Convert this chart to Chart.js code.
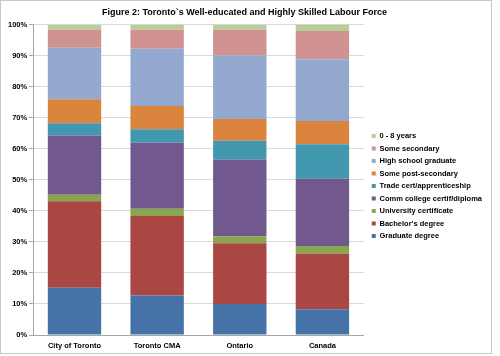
<!DOCTYPE html>
<html><head><meta charset="utf-8">
<script src="https://cdn.jsdelivr.net/npm/chart.js@4"></script>
<style>html,body{margin:0;padding:0;background:#fff}canvas{display:block}</style>
</head><body>
<canvas id="c" width="500" height="356"></canvas>
<script>
const categories = ["City of Toronto", "Toronto CMA", "Ontario", "Canada"];
const graduateDegree = [15.2, 12.7, 10.0, 8.3];
const bachelorsDegree = [27.9, 25.7, 19.6, 17.9];
const universityCertificate = [2.1, 2.3, 2.2, 2.5];
const commCollege = [19.1, 21.3, 24.8, 21.7];
const tradeCert = [4.0, 4.3, 6.0, 11.1];
const somePostSecondary = [7.7, 7.5, 7.0, 7.5];
const highSchool = [16.6, 18.5, 20.6, 19.9];
const someSecondary = [5.8, 6.1, 8.2, 9.1];
const zeroToEight = [1.6, 1.6, 1.6, 2.0];
const yTicks = [0,10,20,30,40,50,60,70,80,90,100];

const FONT = "'Liberation Sans', Arial, sans-serif";
const frame = {
  id: 'frame',
  beforeDraw(chart) {
    const ctx = chart.ctx;
    ctx.save();
    ctx.fillStyle = '#fff';
    ctx.fillRect(0, 0, chart.width, chart.height);
    ctx.strokeStyle = '#c8c8c8';
    ctx.lineWidth = 1;
    ctx.strokeRect(0.5, 0.5, 491, 353);
    ctx.restore();
  }
};
const legendShift = {
  id: 'legendShift',
  afterLayout(chart) {
    const lg = chart.legend;
    if (!lg) return;
    lg.left += 3; lg.right += 3;
    lg.top += 6; lg.bottom += 6;
  }
};

function ds(label, data, color) {
  return { label, data, backgroundColor: color, borderWidth: 0 };
}

new Chart(document.getElementById('c'), {
  type: 'bar',
  data: {
    labels: categories,
    datasets: [
      ds('Graduate degree', graduateDegree, '#4572A7'),
      ds("Bachelor's degree", bachelorsDegree, '#AA4643'),
      ds('University certificate', universityCertificate, '#89A54E'),
      ds('Comm college certif/diploma', commCollege, '#71588F'),
      ds('Trade cert/apprenticeship', tradeCert, '#4198AF'),
      ds('Some post-secondary', somePostSecondary, '#DB843D'),
      ds('High school graduate', highSchool, '#93A9CF'),
      ds('Some secondary', someSecondary, '#D19392'),
      ds('0 - 8 years', zeroToEight, '#B9CD96')
    ]
  },
  options: {
    responsive: false,
    animation: false,
    devicePixelRatio: 1,
    layout: { padding: { left: 6, right: 17, top: 4, bottom: 0 } },
    datasets: { bar: { categoryPercentage: 1, barPercentage: 0.646 } },
    plugins: {
      title: {
        display: true,
        text: 'Figure 2: Toronto`s Well-educated and Highly Skilled Labour Force',
        color: '#000',
        font: { family: FONT, size: 9, weight: 'bold' },
        padding: { top: 3, bottom: 7 }
      },
      legend: {
        position: 'right',
        reverse: true,
        labels: {
          boxWidth: 4, boxHeight: 4, padding: 5,
          color: '#000',
          font: { family: FONT, size: 7.5, weight: 'bold' }
        }
      },
      tooltip: { enabled: false }
    },
    scales: {
      x: {
        stacked: true,
        grid: { display: false, drawTicks: false },
        border: { color: '#a6a6a6' },
        ticks: { color: '#000', font: { family: FONT, size: 7.5, weight: 'bold' }, padding: 6 }
      },
      y: {
        stacked: true,
        min: 0, max: 100,
        afterBuildTicks(axis) { axis.ticks = yTicks.map(v => ({ value: v })); },
        grid: { color: '#d9d9d9', tickLength: 4, tickColor: '#a6a6a6' },
        border: { color: '#a6a6a6' },
        ticks: { color: '#000', font: { family: FONT, size: 7.5, weight: 'bold' }, padding: 2,
          callback: v => v + '%' }
      }
    }
  },
  plugins: [frame, legendShift]
});
</script>
</body></html>
